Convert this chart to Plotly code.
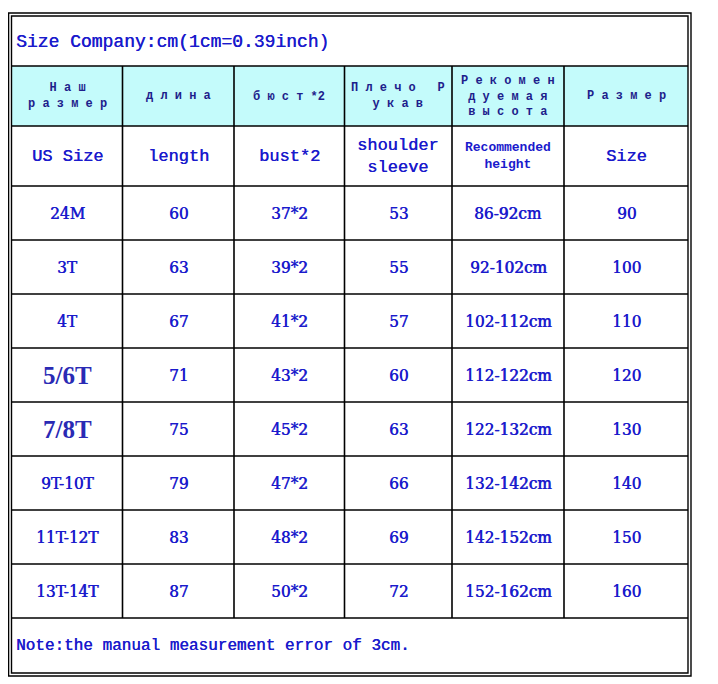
import plotly.graph_objects as go

# --- data ---
title_text = "Size Company:cm(1cm=0.39inch)"
note_text = "Note:the manual measurement error of 3cm."
header_ru = [
    "Н а ш<br>р а з м е р",
    "д л и н а",
    "б ю с т *2",
    "П л е ч о   Р<br>у к а в",
    "Р е к о м е н<br>д у е м а я<br>в ы с о т а",
    "Р а з м е р",
]
header_en = ["US Size", "length", "bust*2", "shoulder<br>sleeve", "Recommended<br>height", "Size"]

us_size = ["24M", "3T", "4T", "5/6T", "7/8T", "9T-10T", "11T-12T", "13T-14T"]
length = [60, 63, 67, 71, 75, 79, 83, 87]
bust_half = [37, 39, 41, 43, 45, 47, 48, 50]
shoulder_sleeve = [53, 55, 57, 60, 63, 66, 69, 72]
height_low = [86, 92, 102, 112, 122, 132, 142, 152]
height_high = [92, 102, 112, 122, 132, 142, 152, 162]
size_cm = [90, 100, 110, 120, 130, 140, 150, 160]
big_sizes = ["5/6T", "7/8T"]

# --- layout of the grid (page pixels) ---
W, H = 718, 684
PAD = 8  # the page body margin; the figure starts at (8, 8)
col_edges = [11.5, 122.5, 234, 344.5, 452, 564, 688]
row_edges = [16, 66, 126, 186, 240, 294, 348, 402, 456, 510, 564, 618, 673]
outer = dict(x0=8.6, x1=691, y0=13, y1=676)

BLUE = "#1a1acc"
NAVY = "#1e1e8c"
MONO = "Liberation Mono"
SERIF = "Liberation Serif"
NUM = "DejaVu Serif Condensed, DejaVu Serif, serif"
THICK = f"0.6px 0px 0px {BLUE}"  # a touch heavier than regular

fig = go.Figure()
shapes = []
annotations = []


def line(x0, y0, x1, y1, w=1.6):
    shapes.append(dict(type="line", x0=x0, y0=y0, x1=x1, y1=y1,
                       line=dict(color="black", width=w), layer="above"))


def cell_text(text, col, r_top, r_bot, size, color=BLUE, family=NUM, shadow="none"):
    xc = (col_edges[col] + col_edges[col + 1]) / 2
    yc = (row_edges[r_top] + row_edges[r_bot]) / 2
    annotations.append(dict(x=xc, y=yc, text=text, showarrow=False,
                            xanchor="center", yanchor="middle",
                            font=dict(family=family, size=size, color=color, shadow=shadow)))


# header background
shapes.append(dict(type="rect", x0=col_edges[0], x1=col_edges[-1],
                   y0=row_edges[1], y1=row_edges[2],
                   fillcolor="#c4fbfb", line=dict(width=0), layer="below"))

# outer double border
shapes.append(dict(type="rect", **outer, line=dict(color="black", width=1.4)))
shapes.append(dict(type="rect", x0=col_edges[0], x1=col_edges[-1],
                   y0=row_edges[0], y1=row_edges[-1],
                   line=dict(color="black", width=1.4)))

# horizontal lines
for y in row_edges[1:-1]:
    line(col_edges[0], y, col_edges[-1], y)
# vertical lines (between title and note rows)
for x in col_edges[1:-1]:
    line(x, row_edges[1], x, row_edges[-2])

# title and note
annotations.append(dict(x=14, y=(row_edges[0] + row_edges[1]) / 2 + 1, text=title_text,
                        showarrow=False, xanchor="left", yanchor="middle",
                        font=dict(family=MONO, size=18, color=BLUE,
                                  shadow=f"0.4px 0px 0px {BLUE}")))
annotations.append(dict(x=14, y=(row_edges[-2] + row_edges[-1]) / 2, text=note_text,
                        showarrow=False, xanchor="left", yanchor="middle",
                        font=dict(family=MONO, size=16, color=BLUE,
                                  shadow=f"0.4px 0px 0px {BLUE}")))

# Russian header row
for i, t in enumerate(header_ru):
    cell_text("<b>" + t + "</b>", i, 1, 2, 12, NAVY, MONO)

# English header row
for i, t in enumerate(header_en):
    if t.startswith("Recommended"):
        cell_text("<b>" + t + "</b>", i, 2, 3, 13, BLUE, MONO)
    else:
        cell_text(t, i, 2, 3, 17, BLUE, MONO, f"0.4px 0px 0px {BLUE}")

# data rows
for r in range(len(us_size)):
    top, bot = 3 + r, 4 + r
    if us_size[r] in big_sizes:
        cell_text("<b>" + us_size[r] + "</b>", 0, top, bot, 25, "#2a2ab4", SERIF)
    else:
        cell_text(us_size[r], 0, top, bot, 17, shadow=THICK)
    cell_text(str(length[r]), 1, top, bot, 17, shadow=THICK)
    cell_text(f"{bust_half[r]}*2", 2, top, bot, 17, shadow=THICK)
    cell_text(str(shoulder_sleeve[r]), 3, top, bot, 17, shadow=THICK)
    cell_text(f"{height_low[r]}-{height_high[r]}cm", 4, top, bot, 17, shadow=THICK)
    cell_text(str(size_cm[r]), 5, top, bot, 17, shadow=THICK)

fig.update_layout(
    width=W - PAD, height=H - PAD,
    margin=dict(l=0, r=0, t=0, b=0),
    paper_bgcolor="white", plot_bgcolor="white",
    xaxis=dict(range=[PAD, W], visible=False, fixedrange=True),
    yaxis=dict(range=[H, PAD], visible=False, fixedrange=True),
    shapes=shapes, annotations=annotations,
    showlegend=False,
)

fig.write_html("out.html")
